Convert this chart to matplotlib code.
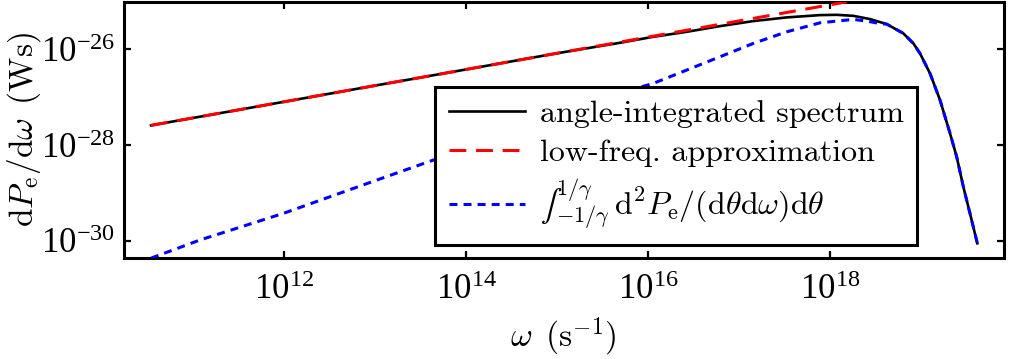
import numpy as np
import matplotlib
matplotlib.use("Agg")
import matplotlib.pyplot as plt
from matplotlib.ticker import FixedLocator, FuncFormatter, NullLocator

plt.rcParams["mathtext.fontset"] = "cm"
plt.rcParams["axes.formatter.use_mathtext"] = True

# log10 of omega (s^-1) and log10 of dP/domega (Ws)
full_logw = [10.538, 12.0, 13.0, 14.0, 15.0, 15.692, 16.058, 16.425, 16.791,
             17.157, 17.524, 17.89, 18.073, 18.256, 18.44, 18.623, 18.806,
             18.916, 18.989, 19.099, 19.209, 19.319, 19.392, 19.465, 19.538,
             19.619]
full_logP = [-27.587, -27.094, -26.756, -26.419, -26.081, -25.862, -25.737,
             -25.633, -25.514, -25.409, -25.332, -25.284, -25.278, -25.299,
             -25.367, -25.472, -25.666, -25.875, -26.084, -26.501, -27.058,
             -27.754, -28.242, -28.868, -29.424, -30.05]

lowfreq_logw = [10.538, 14.0, 18.184]
lowfreq_logP = [-27.587, -26.419, -25.006]

cone_logw = [10.538, 11.077, 11.993, 13.019, 14.0, 15.0, 15.802, 16.058,
             16.425, 16.791, 17.157, 17.524, 17.89, 18.256, 18.403, 18.549,
             18.623, 18.806, 18.916, 18.989, 19.099, 19.209, 19.319, 19.392,
             19.465, 19.538, 19.619]
cone_logP = [-30.36, -29.98, -29.424, -28.729, -28.07, -27.39, -26.85,
             -26.71, -26.432, -26.154, -25.875, -25.633, -25.445, -25.374,
             -25.409, -25.46, -25.472, -25.666, -25.875, -26.084, -26.501,
             -27.058, -27.754, -28.242, -28.868, -29.424, -30.05]

xticks = [1e12, 1e14, 1e16, 1e18]
yticks = [1e-30, 1e-28, 1e-26]

fig = plt.figure(figsize=(10.15, 3.59), dpi=100)
ax = fig.add_axes([0.1217, 0.2822, 0.8671, 0.7136])

ax.loglog(10.0 ** np.array(full_logw), 10.0 ** np.array(full_logP),
          color="black", lw=1.9, label="angle-integrated spectrum", zorder=3)
ax.loglog(10.0 ** np.array(lowfreq_logw), 10.0 ** np.array(lowfreq_logP),
          color="#ff0000", lw=2.2, dashes=(5.5, 3.2),
          label="low-freq. approximation", zorder=4)
ax.loglog(10.0 ** np.array(cone_logw), 10.0 ** np.array(cone_logP),
          color="#0000ff", lw=2.2, dashes=(2.6, 2.0),
          label="$\u222b_{-1/\\gamma}^{1/\\gamma}\\,\\mathrm{d}^2P_\\mathrm{e}"
                "/(\\mathrm{d}\\theta\\mathrm{d}\\omega)\\mathrm{d}\\theta$",
          zorder=5)

ax.set_xlim(10 ** 10.236, 10 ** 19.908)
ax.set_ylim(10 ** -30.35, 10 ** -25.0)

ax.xaxis.set_major_locator(FixedLocator(xticks))
ax.yaxis.set_major_locator(FixedLocator(yticks))
ax.xaxis.set_minor_locator(NullLocator())
ax.yaxis.set_minor_locator(NullLocator())
fmt = FuncFormatter(lambda v, _: r"$\mathregular{10^{%d}}$" % round(np.log10(v)))
ax.xaxis.set_major_formatter(fmt)
ax.yaxis.set_major_formatter(fmt)
ax.tick_params(which="both", direction="in", top=True, right=True,
               length=5, width=1.6, labelsize=25)
ax.tick_params(axis="x", pad=12)
ax.tick_params(axis="y", pad=6)
for lbl in ax.get_xticklabels() + ax.get_yticklabels():
    lbl.set_fontfamily("Liberation Serif")
for sp in ax.spines.values():
    sp.set_linewidth(2.2)

ax.set_xlabel(r"$\omega\ \,(\mathrm{s}^{-1})$", fontsize=24, labelpad=6)
ax.set_ylabel(r"$\mathrm{d}P_\mathrm{e}/\mathrm{d}\omega\ \,(\mathrm{Ws})$",
              fontsize=24)
ax.yaxis.set_label_coords(-0.092, 0.5)

leg = ax.legend(loc="lower left", bbox_to_anchor=(0.3543, 0.05),
                prop={"family": "cmr10", "size": 23}, fancybox=False,
                framealpha=1, edgecolor="black", handlelength=2.4,
                handletextpad=0.45, borderpad=0.42, labelspacing=0.33,
                borderaxespad=0)
leg.get_frame().set_linewidth(2.2)

fig.savefig("out.png", dpi=100)
